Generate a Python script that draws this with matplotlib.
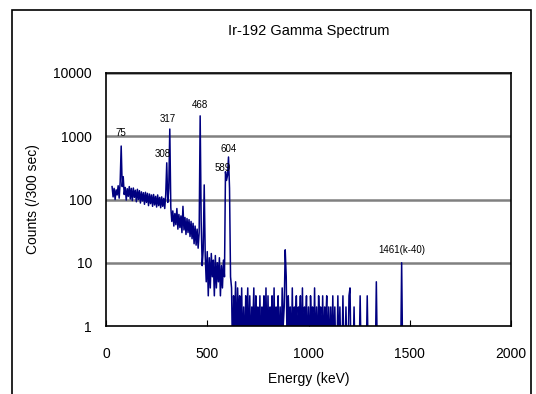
import numpy as np
import matplotlib
matplotlib.use("Agg")
from matplotlib import pyplot as plt
from matplotlib.patches import Rectangle
from matplotlib.ticker import FixedLocator, FixedFormatter, NullLocator

plt.rcParams['font.family'] = ['Liberation Sans', 'DejaVu Sans']

# spectrum channels: 5 keV per channel starting at 30 keV
e_start = 30
e_step = 5

# counts, 30 .. 315 keV
counts_low = [160, 110, 150, 100, 142, 118, 165, 105, 190, 700,
              160, 230, 120, 155, 98, 148, 112, 160, 102, 150,
              96, 152, 108, 140, 92, 145, 100, 138, 88, 132,
              95, 128, 84, 130, 90, 125, 80, 122, 86, 118,
              78, 120, 82, 112, 76, 118, 80, 108, 74, 110,
              78, 104, 72, 120, 380, 90, 150, 1300]
# 320 .. 615 keV
counts_mid = [75, 45, 66, 38, 60, 40, 72, 34, 58, 36,
              55, 30, 78, 33, 52, 28, 50, 30, 48, 26,
              45, 24, 42, 20, 38, 19, 34, 17, 30, 2100,
              45, 9, 16, 170, 13, 5, 15, 3, 12, 4,
              14, 6, 11, 3, 13, 4, 10, 5, 12, 3,
              9, 4, 11, 6, 275, 200, 240, 470, 150, 6]
# 620 .. 1500 keV
counts_high = [4, 0, 3, 1, 5, 0, 4, 1, 3, 0, 4, 0, 2, 0, 3, 1, 4,
               0, 3, 0, 2, 1, 4, 0, 3, 1, 2, 0, 3, 0, 2, 1, 3, 0, 4, 0, 3,
               0, 2, 1, 3, 0, 4, 0, 2, 1, 3, 0, 2, 0, 4, 1, 2,
               16, 6,
               0, 3, 1, 2, 0, 4, 0, 2, 1, 3, 0, 2, 1, 3, 0, 4, 0, 2, 1, 3, 0, 2,
               0, 3, 1, 2, 0, 4, 0, 2, 0, 3, 1, 2, 0, 3, 0, 2, 1, 3, 0, 2,
               0, 2, 0, 3, 0, 2, 0, 0, 3, 0, 2, 0, 0, 3, 0, 0, 2, 0, 0, 3,
               4, 0, 0, 0, 2, 0, 0, 0, 0, 0, 3, 0, 0, 0, 0, 0, 0, 3, 0, 0,
               0, 0, 0, 0, 0, 0, 5, 0, 0, 0, 0, 0, 0, 0, 0, 0, 0, 0, 0, 0,
               0, 0, 0, 0, 0, 0, 0, 0, 0, 0, 0, 10, 0, 0, 0, 0, 0, 0, 0, 0]

# peak labels
peak_labels = ["75", "308", "317", "468", "589", "604", "1461(k-40)"]
peak_energy = [75, 300, 315, 465, 590, 605, 1460]
label_offset = [(0, 8), (-4, 4), (-2, 5), (0, 6), (-3, -1), (0, 3), (0, 8)]

counts = np.array(counts_low + counts_mid + counts_high, dtype=float)
energy = e_start + e_step * np.arange(len(counts))
# zero counts drawn down below the axis floor, like the original
plot_counts = np.where(counts > 0, counts, 0.3)

fig = plt.figure(figsize=(5.36, 3.94), dpi=100)
ax = fig.add_axes([106 / 536, 1 - 326 / 394, 405 / 536, 253 / 394])

ax.plot(energy, plot_counts, color='#000080', lw=1.1)

ax.set_yscale('log')
ax.set_xlim(0, 2000)
ax.set_ylim(1, 10000)
yt = [1, 10, 100, 1000, 10000]
ax.yaxis.set_major_locator(FixedLocator(yt))
ax.yaxis.set_major_formatter(FixedFormatter([str(v) for v in yt]))
ax.yaxis.set_minor_locator(NullLocator())
ax.set_xticks([0, 500, 1000, 1500, 2000])
ax.tick_params(axis='x', direction='in', length=4, labelsize=10, pad=15)
ax.tick_params(axis='y', length=0, labelsize=10, pad=10)
for v in yt[1:]:
    ax.axhline(v, color='#808080', lw=1.8, zorder=0)
for s in ax.spines.values():
    s.set_color('black')
    s.set_linewidth(1.2)

ax.set_xlabel('Energy (keV)', fontsize=10, labelpad=8)
ax.set_ylabel('Counts (/300 sec)', fontsize=10, labelpad=10)
ax.set_title('Ir-192 Gamma Spectrum', fontsize=10.5, pad=27)

for lab, e, off in zip(peak_labels, peak_energy, label_offset):
    i = np.argmin(np.abs(energy - e))
    ax.annotate(lab, (energy[i], counts[i]), xytext=off, textcoords='offset pixels',
                ha='center', va='bottom', fontsize=7)

fig.add_artist(Rectangle((12 / 536, -0.1), (531 - 12) / 536, 1.1 - 10 / 394,
                         transform=fig.transFigure, fill=False, lw=1.2, color='black'))

fig.savefig('out.png', dpi=100)
